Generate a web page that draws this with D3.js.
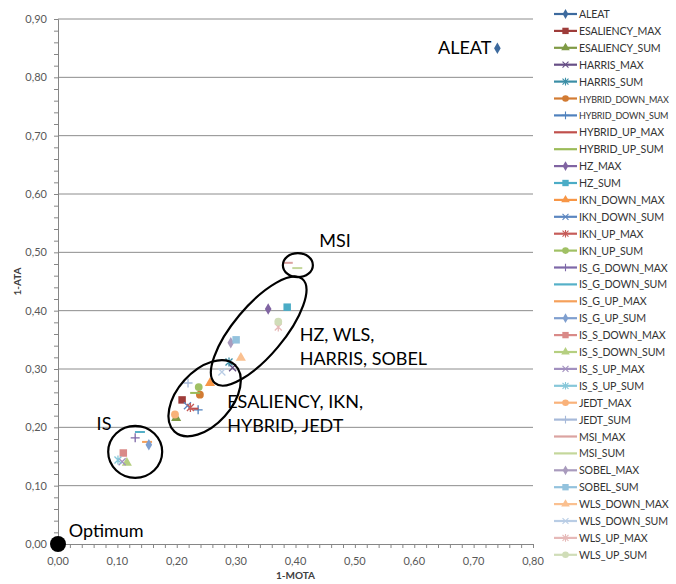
<!DOCTYPE html>
<html>
<head>
<meta charset="utf-8">
<script src="https://d3js.org/d3.v7.min.js"></script>
<style>
  body { margin: 0; background: #fff; }
  text { font-family: Lato, "Open Sans", sans-serif; }
</style>
</head>
<body>
<div id="chart"></div>
<script>
// series names, in legend order
var names = ["ALEAT","ESALIENCY_MAX","ESALIENCY_SUM","HARRIS_MAX","HARRIS_SUM",
  "HYBRID_DOWN_MAX","HYBRID_DOWN_SUM","HYBRID_UP_MAX","HYBRID_UP_SUM","HZ_MAX","HZ_SUM",
  "IKN_DOWN_MAX","IKN_DOWN_SUM","IKN_UP_MAX","IKN_UP_SUM","IS_G_DOWN_MAX","IS_G_DOWN_SUM",
  "IS_G_UP_MAX","IS_G_UP_SUM","IS_S_DOWN_MAX","IS_S_DOWN_SUM","IS_S_UP_MAX","IS_S_UP_SUM",
  "JEDT_MAX","JEDT_SUM","MSI_MAX","MSI_SUM","SOBEL_MAX","SOBEL_SUM",
  "WLS_DOWN_MAX","WLS_DOWN_SUM","WLS_UP_MAX","WLS_UP_SUM"];

// 1-MOTA values
var mota = [0.74,0.209,0.199,0.294,0.288,
  0.239,0.236,0.228,0.231,0.354,0.386,
  0.256,0.218,0.223,0.237,0.130,0.138,
  0.150,0.153,0.110,0.116,0.108,0.101,
  0.197,0.219,0.387,0.403,0.291,0.300,
  0.308,0.276,0.371,0.371];

// 1-ATA values
var ata = [0.85,0.247,0.216,0.302,0.312,
  0.256,0.230,0.232,0.259,0.403,0.406,
  0.276,0.237,0.234,0.269,0.182,0.192,
  0.175,0.170,0.156,0.139,0.141,0.144,
  0.222,0.276,0.482,0.473,0.345,0.350,
  0.319,0.295,0.372,0.381];

var shapes = ["diamond","square","triangle","x","star","circle",
  "plus","dash","dash","diamond","square","triangle",
  "x","star","circle","plus","dash","dash",
  "diamond","square","triangle","x","star","circle",
  "plus","dash","dash","diamond","square","triangle",
  "x","star","circle"];

var colors = ["#3d6a9e","#9e3c3a","#7f9a45","#674f86","#3b8ea6","#d27b33",
  "#4f81bd","#c0504d","#9bbb59","#8064a2","#4bacc6","#f79646",
  "#5b86c0","#c65c59","#a0c064","#7e68a8","#55b0c8","#f5a05a",
  "#7f9fcf","#d98a88","#b5cf80","#a290bf","#86c7d9","#f9b27a",
  "#a6b9d9","#dba3a1","#c4d79b","#a99bbd","#93c2dd","#fac090",
  "#b9cde5","#e6b9b8","#d0ddb8"];

var xTicks = [0,0.1,0.2,0.3,0.4,0.5,0.6,0.7,0.8];
var yTicks = [0,0.1,0.2,0.3,0.4,0.5,0.6,0.7,0.8,0.9];

// hand-drawn annotations (data units)
var ellipses = [
  {cx: 0.130, cy: 0.158, rx: 27, ry: 26, rot: 0},
  {cx: 0.247, cy: 0.250, rx: 45, ry: 27, rot: -48},
  {cx: 0.338, cy: 0.365, rx: 68, ry: 25, rot: -50},
  {cx: 0.404, cy: 0.478, rx: 15, ry: 12, rot: 0}
];
var notes = [
  {x: 0.74, y: 0.85, dx: -6, dy: 6, anchor: "end", lines: ["ALEAT"]},
  {x: 0.44, y: 0.51, dx: 0, dy: 0, anchor: "start", lines: ["MSI"]},
  {x: 0.407, y: 0.348, dx: 0, dy: 0, anchor: "start", lines: ["HZ, WLS,", "HARRIS, SOBEL"]},
  {x: 0.285, y: 0.234, dx: 0, dy: 0, anchor: "start", lines: ["ESALIENCY, IKN,", "HYBRID, JEDT"]},
  {x: 0.065, y: 0.195, dx: 0, dy: 0, anchor: "start", lines: ["IS"]},
  {x: 0.018, y: 0.012, dx: 0, dy: 0, anchor: "start", lines: ["Optimum"]}
];

var W = 676, H = 584;
var svg = d3.select("#chart").append("svg").attr("width", W).attr("height", H);

var x = d3.scaleLinear().domain([0, 0.8]).range([58, 533]);
var y = d3.scaleLinear().domain([0, 0.9]).range([544, 19]);

// gridlines
svg.append("g").selectAll("line").data(yTicks.slice(1)).enter().append("line")
  .attr("x1", x(0)).attr("x2", x(0.8))
  .attr("y1", function(d) { return y(d); }).attr("y2", function(d) { return y(d); })
  .attr("stroke", "#8c8c8c").attr("stroke-width", 1);

// axes with minor ticks every 0.02
var fmt = function(d) { return d3.format(".2f")(d).replace(".", ","); };
var minorX = d3.range(0, 0.8001, 0.02), minorY = d3.range(0, 0.9001, 0.02);

var gx = svg.append("g").attr("transform", "translate(0," + y(0) + ")")
  .call(d3.axisBottom(x).tickValues(minorX).tickSize(4).tickFormat(""));
var gy = svg.append("g").attr("transform", "translate(" + x(0) + ",0)")
  .call(d3.axisLeft(y).tickValues(minorY).tickSize(4).tickFormat(""));
[gx, gy].forEach(function(g) {
  g.select(".domain").attr("stroke", "#868686");
  g.selectAll(".tick line").attr("stroke", "#868686");
});

svg.append("g").selectAll("text").data(xTicks).enter().append("text")
  .attr("x", function(d) { return x(d); }).attr("y", 565)
  .attr("text-anchor", "middle").attr("font-size", 11).attr("fill", "#595959")
  .text(fmt);
svg.append("g").selectAll("text").data(yTicks).enter().append("text")
  .attr("x", 47).attr("y", function(d) { return y(d) + 4; })
  .attr("text-anchor", "end").attr("font-size", 11).attr("fill", "#595959")
  .text(fmt);

svg.append("text").attr("x", (x(0) + x(0.8)) / 2).attr("y", 579)
  .attr("text-anchor", "middle").attr("font-size", 10).attr("font-weight", "bold")
  .attr("fill", "#404040").text("1-MOTA");
svg.append("text").attr("transform", "translate(21," + y(0.45) + ") rotate(-90)")
  .attr("text-anchor", "middle").attr("font-size", 10).attr("font-weight", "bold")
  .attr("fill", "#404040").text("1-ATA");

// marker drawing
function marker(g, shape, color) {
  if (shape == "diamond") g.append("path").attr("d", d3.symbol(d3.symbolDiamond, 38)).attr("fill", color);
  else if (shape == "square") g.append("path").attr("d", d3.symbol(d3.symbolSquare, 56)).attr("fill", color);
  else if (shape == "triangle") g.append("path").attr("d", d3.symbol(d3.symbolTriangle, 44)).attr("fill", color);
  else if (shape == "circle") g.append("path").attr("d", d3.symbol(d3.symbolCircle, 48)).attr("fill", color);
  else if (shape == "x") g.append("path").attr("d", "M-3.5,-3.5L3.5,3.5M-3.5,3.5L3.5,-3.5").attr("stroke", color).attr("stroke-width", 1.3).attr("fill", "none");
  else if (shape == "star") g.append("path").attr("d", "M-3.5,-3.5L3.5,3.5M-3.5,3.5L3.5,-3.5M0,-4.5L0,4.5").attr("stroke", color).attr("stroke-width", 1.3).attr("fill", "none");
  else if (shape == "plus") g.append("path").attr("d", "M-4.5,0L4.5,0M0,-4.5L0,4.5").attr("stroke", color).attr("stroke-width", 1.3).attr("fill", "none");
  else g.append("path").attr("d", "M-5,0L5,0").attr("stroke", color).attr("stroke-width", 2).attr("fill", "none");
}

// points
var pts = svg.append("g");
names.forEach(function(n, i) {
  var g = pts.append("g").attr("transform", "translate(" + x(mota[i]) + "," + y(ata[i]) + ")");
  marker(g, shapes[i], colors[i]);
});

// optimum dot
svg.append("circle").attr("cx", x(0)).attr("cy", y(0)).attr("r", 8).attr("fill", "#000");

// ellipses
svg.append("g").selectAll("ellipse").data(ellipses).enter().append("ellipse")
  .attr("transform", function(d) { return "translate(" + x(d.cx) + "," + y(d.cy) + ") rotate(" + d.rot + ")"; })
  .attr("rx", function(d) { return d.rx; }).attr("ry", function(d) { return d.ry; })
  .attr("fill", "none").attr("stroke", "#000").attr("stroke-width", 2.2);

// annotation labels
notes.forEach(function(n) {
  var t = svg.append("text").attr("x", x(n.x) + n.dx).attr("y", y(n.y) + n.dy)
    .attr("text-anchor", n.anchor).attr("font-size", 18).attr("fill", "#000");
  n.lines.forEach(function(l, j) {
    t.append("tspan").attr("x", x(n.x) + n.dx).attr("dy", j ? 24 : 0).text(l);
  });
});

// legend
var lg = svg.append("g");
names.forEach(function(n, i) {
  var yy = 14 + i * 16.9;
  var row = lg.append("g").attr("transform", "translate(0," + yy + ")");
  row.append("line").attr("x1", 554).attr("x2", 577).attr("y1", 0).attr("y2", 0)
    .attr("stroke", colors[i]).attr("stroke-width", 2.2);
  if (shapes[i] != "dash") {
    var m = row.append("g").attr("transform", "translate(565.5,0) scale(0.85)");
    marker(m, shapes[i], colors[i]);
  }
  var fs = 10.6;
  var t = row.append("text").attr("x", 579).attr("y", 4).attr("font-size", fs)
    .attr("letter-spacing", -0.15).attr("fill", "#333").text(n);
  // shrink the longest names so they stay inside the window
  var room = W - 579 - 6;
  while (t.node().getComputedTextLength() > room && fs > 8) {
    fs -= 0.2;
    t.attr("font-size", fs);
  }
});
</script>
</body>
</html>
